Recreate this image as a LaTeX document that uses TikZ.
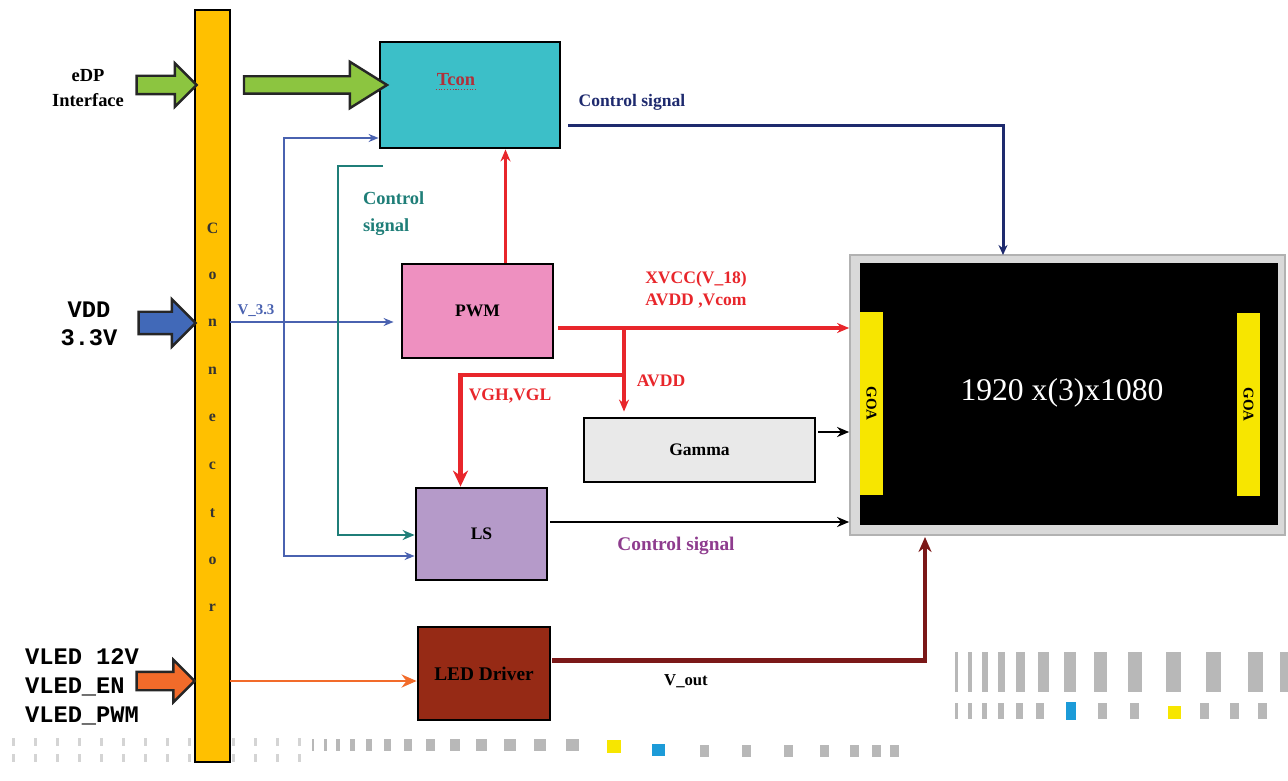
\documentclass[tikz,border=0pt]{standalone}
\usepackage{fontspec}
\setmainfont{Liberation Serif}
\setmonofont{Liberation Mono}
\usetikzlibrary{arrows.meta, calc, shapes.arrows}
\definecolor{cconn}{HTML}{FFC000}
\definecolor{ctcon}{HTML}{3CBFC8}
\definecolor{cpwm}{HTML}{EE90C0}
\definecolor{cgamma}{HTML}{E9E9E9}
\definecolor{cls}{HTML}{B59AC9}
\definecolor{cled}{HTML}{962A15}
\definecolor{cgreen}{HTML}{8CC540}
\definecolor{cvdd}{HTML}{4169B8}
\definecolor{corange}{HTML}{F26B2A}
\definecolor{cnavy}{HTML}{1E2A6E}
\definecolor{cvline}{HTML}{4A62B0}
\definecolor{cteal}{HTML}{1F7E78}
\definecolor{cred}{HTML}{E8262B}
\definecolor{cdred}{HTML}{7B1818}
\definecolor{cpurple}{HTML}{8E3C8E}
\definecolor{cgoa}{HTML}{F7E600}
\definecolor{ctxtred}{HTML}{B0303A}
\definecolor{cdeco}{HTML}{B8B8B8}
\definecolor{cdecob}{HTML}{1C9BD8}
\tikzset{
  every picture/.style={font=\bfseries, line width=1.2pt},
  box/.style={draw=black, fill=#1, line width=1.6pt, align=center, inner sep=2pt},
  box/.default=white,
  fatarrow/.style={single arrow, draw=black!85, fill=#1, line width=1.4pt, inner xsep=0pt},
  wire/.style={-{Stealth[length=2.4mm, width=2mm]}, draw=#1},
  lbl/.style={font=\bfseries\fontsize{10}{12.5}\selectfont, text=#1, inner sep=0pt, align=left},
  lbl/.default=black,
  deco/.style={fill=cdeco, draw=none},
}

\begin{document}
\begin{tikzpicture}[x=0.2mm, y=-0.2mm]
  \useasboundingbox (0,0) rectangle (1288,781);
  % faint dash pattern along the bottom
  \foreach \x in {12,34,...,300} {
    \fill[cdeco!60] (\x,738) rectangle ++(3,8);
    \fill[cdeco!60] (\x,754) rectangle ++(3,8);
  }
  \foreach \x/\w in {312/2,324/3,336/4,350/5,366/6,384/7,404/8,426/9,450/10,476/11,504/12,534/12,566/13} \fill[cdeco] (\x,739) rectangle ++(\w,12);
  \foreach \x in {700,742,784,820,850,872,890} \fill[cdeco] (\x,745) rectangle ++(9,12);
  \fill[cgoa] (607,740) rectangle ++(14,13);
  \fill[cdecob] (652,744) rectangle ++(13,12);
  \foreach \x/\w in {955/3,968/4,982/6,998/7,1016/9,1038/11,1064/12,1094/13,1128/14,1166/15,1206/15,1248/15,1280/8} \fill[cdeco] (\x,652) rectangle ++(\w,40);
  \foreach \x/\w in {955/3,968/4,982/5,998/6,1016/7,1036/8,1098/9,1130/9,1200/9,1230/9,1258/9} \fill[cdeco] (\x,703) rectangle ++(\w,16);
  \fill[cdecob] (1066,702) rectangle ++(10,18);
  \fill[cgoa] (1168,706) rectangle ++(13,13);

  % connector bar
  \node[box=cconn, minimum width=7mm, minimum height=150.4mm] (conn) at (212.5,386) {};
  \foreach \ch [count=\k] in {C,o,n,n,e,c,t,o,r}
    \node[font=\bfseries\fontsize{9}{10}\selectfont, text=black!80] (cl\k) at (212.5,180.5+47.5*\k) {\ch};

  % inputs
  \node[lbl, align=center, font=\bfseries\fontsize{10.5}{14.5}\selectfont] (edp) at (88,88) {eDP\\Interface};
  \node[fatarrow=cgreen, minimum height=12mm, inner ysep=1.6mm, single arrow head extend=2.5mm] (edparr) at (162,85) {};
  \node[lbl, align=center, font=\ttfamily\bfseries\fontsize{13.5}{16}\selectfont] (vdd) at (89,324) {VDD\\3.3V};
  \node[fatarrow=cvdd, minimum height=11.4mm, inner ysep=2mm, single arrow head extend=2.5mm] (vddarr) at (161.5,323) {};
  \node[lbl, font=\ttfamily\bfseries\fontsize{13.5}{16.5}\selectfont, anchor=west] (vled) at (24,687) {VLED 12V\\VLED\_EN\\VLED\_PWM};
  \node[fatarrow=corange, minimum height=11.6mm, inner ysep=1.6mm, single arrow head extend=2.4mm] (vledarr) at (161,681) {};

  % blocks
  \node[box=ctcon, minimum width=36mm, minimum height=21.2mm] (tcon) at (470,95) {};
  \node[lbl=ctxtred, font=\bfseries\fontsize{10.5}{12}\selectfont] (tconlbl) at (456,80) {Tcon};
  \draw[ctxtred, densely dotted, line width=0.6pt] ([yshift=-1.5pt]tconlbl.south west) -- ([yshift=-1.5pt]tconlbl.south east);
  \node[box=cpwm, minimum width=30.2mm, minimum height=18.8mm] (pwm) at (477.5,311) {PWM};
  \node[box=cgamma, minimum width=46.2mm, minimum height=12.8mm] (gamma) at (699.5,450) {Gamma};
  \node[box=cls, minimum width=26.2mm, minimum height=18.4mm] (ls) at (481.5,534) {LS};
  \node[box=cled, minimum width=26.4mm, minimum height=18.6mm, font=\bfseries\fontsize{11}{13}\selectfont] (led) at (484,673.5) {LED Driver};

  % panel
  \node[fill=gray!30, draw=gray!60, line width=1pt, minimum width=87mm, minimum height=56mm] (screen) at (1067.5,395) {};
  \node[fill=black, inner sep=0pt, minimum width=83.6mm, minimum height=52.4mm] (panel) at (1069,394) {};
  \node[fill=cgoa, rotate=-90, minimum width=36.6mm, minimum height=4.6mm, inner sep=0pt, font=\bfseries\fontsize{8.5}{10}\selectfont] (goal) at (871.5,403.5) {GOA};
  \node[fill=cgoa, rotate=-90, minimum width=36.6mm, minimum height=4.6mm, inner sep=0pt, font=\bfseries\fontsize{8.5}{10}\selectfont] (goar) at (1248.5,404.5) {GOA};
  \node[text=white, font=\fontsize{18}{20}\selectfont] (res) at (1062,393) {1920 x(3)x1080};

  % connections
  \node[fatarrow=cgreen, minimum height=28.6mm, inner ysep=1.5mm, single arrow head extend=2.9mm, single arrow tip angle=64] (edpbus) at (308.5,85) {};
  \coordinate (cv) at (230,322);
  \coordinate (ce) at (230,681);
  \coordinate (bt) at (284,138);
  \coordinate (bb) at (284,556);
  \draw[draw=cvline, line width=0.9pt, {Stealth[length=2mm, width=1.6mm]}-{Stealth[length=2mm, width=1.6mm]}] (bt -| tcon.west) -- (bt) -- (bb) -- (bb -| ls.west);
  \draw[draw=cvline, line width=0.9pt, -{Stealth[length=2mm, width=1.6mm]}, shorten >=1.4mm] (cv) -- (cv -| pwm.west);
  \node[lbl=cvline, font=\bfseries\fontsize{8.5}{10}\selectfont] (v33) at (256,311) {V\_3.3};
  \coordinate (tt) at (383,166);
  \coordinate (tb) at (338,535);
  \draw[wire=cteal, line width=1.6pt] (tt) -| (tb) -- (tb -| ls.west);
  \node[lbl=cteal, font=\bfseries\fontsize{10.5}{15.5}\selectfont, anchor=west] (tsig) at (362,214) {Control\\signal};

  \coordinate (pt) at ($(pwm.north)+(28,0)$);
  \draw[wire=cred, line width=1.4pt] (pt) -- (pt |- tcon.south);
  \coordinate (px) at ($(pwm.east)+(4,17)$);
  \draw[wire=cred, line width=2.1pt] (px) -- (px -| screen.west);
  \node[lbl=cred, align=center] (xvcc) at (696,290) {XVCC(V\_18)\\AVDD ,Vcom};
  \coordinate (ja) at (624,328);
  \coordinate (jb) at (624,375);
  \draw[wire=cred, line width=1.9pt, shorten >=1mm] (ja) -- (ja |- gamma.north);
  \node[lbl=cred] (avdd) at (661,381) {AVDD};
  \draw[cred, line width=2.8pt, -{Stealth[length=3.2mm, width=3mm]}] (jb) -| ($(ls.north)+(-21,0)$);
  \node[lbl=cred] (vgh) at (510,396) {VGH,VGL};

  \coordinate (gx) at ($(gamma.east)+(2,-18)$);
  \draw[wire=black, line width=1.4pt] (gx) -- (gx -| screen.west);
  \coordinate (lx) at ($(ls.east)+(2,-12)$);
  \draw[wire=black, line width=1.4pt] (lx) -- (lx -| screen.west);
  \node[lbl=cpurple, font=\bfseries\fontsize{11}{13}\selectfont] (lsig) at (676,546) {Control signal};

  \coordinate (nt) at ($(tcon.south east)+(7,-24)$);
  \coordinate (st) at (1003,255);
  \draw[draw=cnavy, line width=1.7pt, -{Stealth[length=2mm, width=1.8mm]}] (nt) -| (st);
  \node[lbl=cnavy, font=\bfseries\fontsize{10}{12}\selectfont] (tsig2) at (632,102) {Control signal};

  \draw[draw=corange, line width=1.4pt, -{Stealth[length=3mm, width=2.6mm]}] (ce) -- (ce -| led.west);
  \coordinate (dx) at ($(led.east)+(1,-13)$);
  \coordinate (sb) at (925,537);
  \draw[draw=cdred, line width=2.3pt, -{Stealth[length=3mm, width=2.6mm]}] (dx) -| (sb);
  \node[lbl, font=\bfseries\fontsize{9.5}{11}\selectfont] (vout) at (686,681) {V\_out};
\end{tikzpicture}
\end{document}
